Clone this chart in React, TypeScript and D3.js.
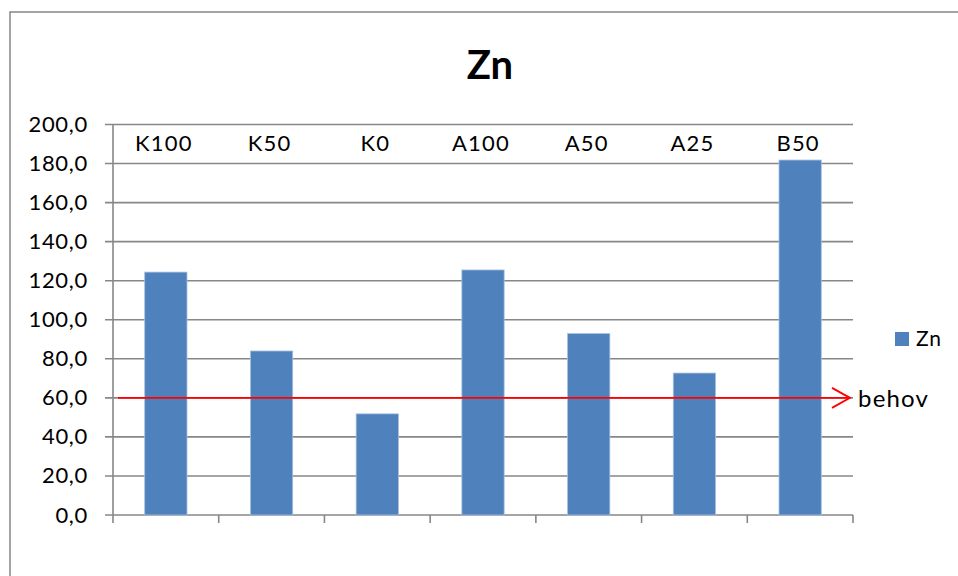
import React from "react";
import * as d3 from "d3";

const categories = ["K100", "K50", "K0", "A100", "A50", "A25", "B50"];
const values = [124.4, 84.0, 51.8, 125.5, 92.9, 72.7, 181.8];
const yTicks = [0, 20, 40, 60, 80, 100, 120, 140, 160, 180, 200];
const seriesName = "Zn";
const title = "Zn";
const requirement = 60;
const requirementLabel = "behov";

const W = 958;
const H = 576;
const FONT = "Lato, 'Open Sans', sans-serif";
const BAR = "#4F81BD";
const GRID = "#878787";

export default function App() {
  const left = 113, right = 853, top = 124.5, bottom = 515;
  const x = d3.scaleBand<string>().domain(categories).range([left, right]).paddingInner(0.6).paddingOuter(0.3);
  const xc = d3.scaleBand<string>().domain(categories).range([left, right]);
  const y = d3.scaleLinear().domain([0, 200]).range([bottom, top]);
  const fmt = (v: number) => d3.format(".1f")(v).replace(".", ",");
  const ry = y(requirement);

  return (
    <svg width={W} height={H} style={{ position: "absolute", left: 0, top: 0, background: "#fff" }} fontFamily={FONT}>
      <rect x={10} y={12} width={W} height={H} fill="#fff" stroke="#868686" strokeWidth={1.5} />
      <text x={490} y={79} textAnchor="middle" fontSize={40} fontWeight="bold" fill="#000">{title}</text>
      {yTicks.map((t) => (
        <g key={t}>
          <line x1={105} x2={right} y1={y(t)} y2={y(t)} stroke={GRID} strokeWidth={1.6} />
          <text x={88} y={y(t) + 7.5} textAnchor="end" fontSize={22} letterSpacing={0.7} fill="#000">{fmt(t)}</text>
        </g>
      ))}
      <line x1={left} x2={left} y1={top} y2={bottom + 8} stroke={GRID} strokeWidth={1.6} />
      {categories.map((c) => (
        <line key={"t" + c} x1={xc(c)! + xc.bandwidth()} x2={xc(c)! + xc.bandwidth()} y1={bottom} y2={bottom + 8} stroke={GRID} strokeWidth={1.6} />
      ))}
      {categories.map((c, i) => (
        <rect key={c} x={x(c)} y={y(values[i])} width={x.bandwidth()} height={bottom - y(values[i])} fill={BAR} stroke="#A7C0DE" strokeWidth={0.8} />
      ))}
      {categories.map((c) => (
        <text key={"l" + c} x={xc(c)! + xc.bandwidth() / 2 - 2} y={151} textAnchor="middle" fontSize={22} letterSpacing={1.2} fill="#000">{c}</text>
      ))}
      <line x1={118} x2={850} y1={ry} y2={ry} stroke="#FF0000" strokeWidth={1.8} />
      <polyline points={`832,${ry - 10} 850,${ry} 832,${ry + 10}`} fill="none" stroke="#FF0000" strokeWidth={1.8} />
      <text x={858} y={ry + 9} fontSize={24} letterSpacing={1.2} fill="#000">{requirementLabel}</text>
      <rect x={895} y={332} width={14} height={14} fill={BAR} />
      <text x={916} y={346} fontSize={21} letterSpacing={0.8} fill="#000">{seriesName}</text>
    </svg>
  );
}
